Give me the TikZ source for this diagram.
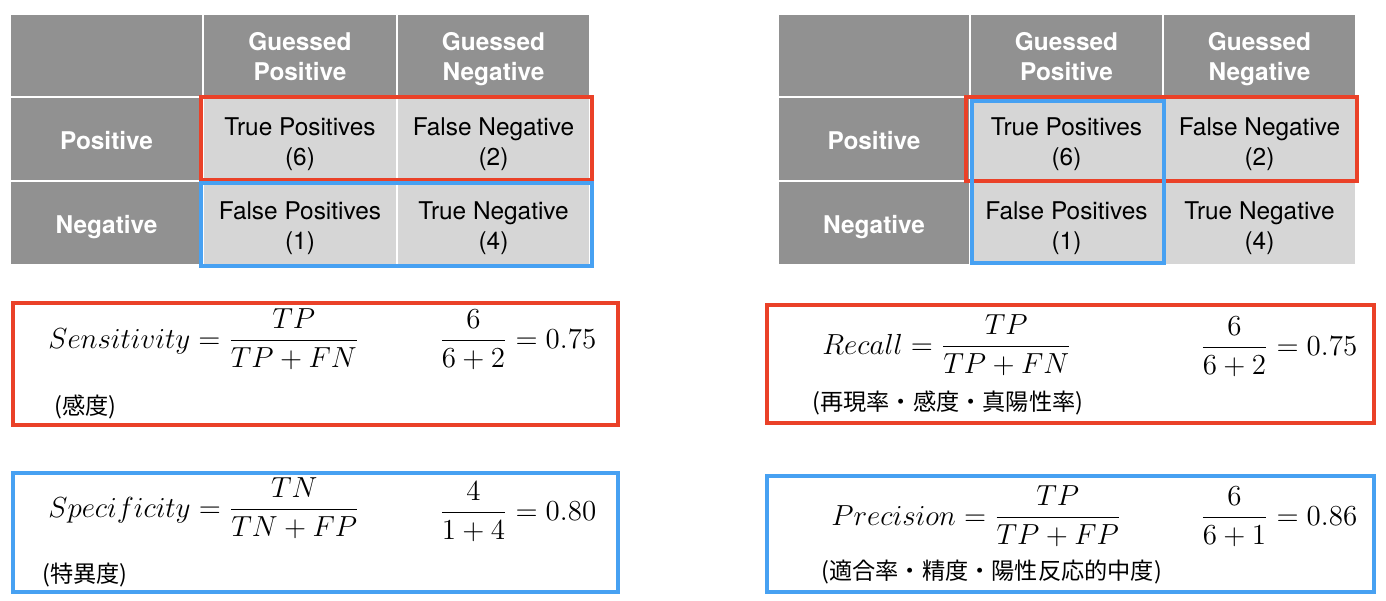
\RequirePackage{fix-cm}
\documentclass[tikz,border=0pt]{standalone}
\usepackage[no-math]{fontspec}
\setmainfont{TeX Gyre Heros}
\newfontfamily\cjk{Noto Sans CJK JP}
\definecolor{dgray}{HTML}{919191}
\definecolor{lgray}{HTML}{D6D6D6}
\definecolor{myred}{HTML}{EA4128}
\definecolor{myblue}{HTML}{47A1F2}
\tikzset{
  cell/.style={inner sep=0pt, draw=white, line width=0.6pt},
  hdr/.style={cell, fill=dgray},
  body/.style={cell, fill=lgray},
  htxt/.style={inner sep=0pt, anchor=north, align=center, text=white, font=\fontsize{12.2}{15}\selectfont\bfseries},
  btxt/.style={inner sep=0pt, anchor=north, align=center, text=black, font=\fontsize{12.2}{15}\selectfont},
  redbox/.style={draw=myred, line width=2pt},
  bluebox/.style={draw=myblue, line width=2pt},
  mth/.style={inner sep=0pt, anchor=base west, font=\fontsize{14.5}{17}\selectfont},
  jp/.style={inner sep=0pt, anchor=west, font=\cjk\fontsize{11.6}{14}\selectfont},
}
\newcommand\cellat[6]{\node[#6, minimum width={(#4-#2)*0.5pt}, minimum height={(#5-#3)*0.5pt}] (#1) at ({(#2+#4)/2},{(#3+#5)/2}) {};}
\begin{document}
\begin{tikzpicture}[x=0.5pt,y=-0.5pt]
\useasboundingbox (0,0) rectangle (1386,600);
% ---------- left table ----------
\cellat{L00}{10}{14}{203}{97}{hdr}
\cellat{L01}{203}{14}{397}{97}{hdr}
\cellat{L02}{397}{14}{590}{97}{hdr}
\cellat{L10}{10}{97}{203}{181}{hdr}
\cellat{L11}{203}{97}{397}{181}{body}
\cellat{L12}{397}{97}{590}{181}{body}
\cellat{L20}{10}{181}{203}{265}{hdr}
\cellat{L21}{203}{181}{397}{265}{body}
\cellat{L22}{397}{181}{590}{265}{body}
\node[htxt] (Lh1) at (300,32) {Guessed\\Positive};
\node[htxt] (Lh2) at (493.5,32) {Guessed\\Negative};
\node[htxt] (Lr1) at (106.5,131) {Positive};
\node[htxt] (Lr2) at (106.5,215) {Negative};
\node[btxt] (Ltp) at (300,117) {True Positives\\(6)};
\node[btxt] (Lfn) at (493.5,117) {False Negative\\(2)};
\node[btxt] (Lfp) at (300,201) {False Positives\\(1)};
\node[btxt] (Ltn) at (493.5,201) {True Negative\\(4)};
\draw[redbox] (201,97) rectangle (592,180);
\draw[bluebox] (201,183) rectangle (592,266);
% ---------- right table ----------
\cellat{R00}{778}{14}{970}{97}{hdr}
\cellat{R01}{970}{14}{1163}{97}{hdr}
\cellat{R02}{1163}{14}{1356}{97}{hdr}
\cellat{R10}{778}{97}{970}{181}{hdr}
\cellat{R11}{970}{97}{1163}{181}{body}
\cellat{R12}{1163}{97}{1356}{181}{body}
\cellat{R20}{778}{181}{970}{265}{hdr}
\cellat{R21}{970}{181}{1163}{265}{body}
\cellat{R22}{1163}{181}{1356}{265}{body}
\node[htxt] (Rh1) at (1066.5,32) {Guessed\\Positive};
\node[htxt] (Rh2) at (1259.5,32) {Guessed\\Negative};
\node[htxt] (Rr1) at (874,131) {Positive};
\node[htxt] (Rr2) at (874,215) {Negative};
\node[btxt] (Rtp) at (1066.5,117) {True Positives\\(6)};
\node[btxt] (Rfn) at (1259.5,117) {False Negative\\(2)};
\node[btxt] (Rfp) at (1066.5,201) {False Positives\\(1)};
\node[btxt] (Rtn) at (1259.5,201) {True Negative\\(4)};
\draw[redbox] (966,97) rectangle (1357,181);
\draw[bluebox] (972,101) rectangle (1164,263);
% ---------- formula boxes ----------
\draw[redbox] (13,303) rectangle (618,425);
\draw[bluebox] (13,473) rectangle (618,592);
\draw[redbox] (767,305) rectangle (1374,423);
\draw[bluebox] (767,476) rectangle (1374,592);
\node[mth] (sens) at (48,348) {$\displaystyle Sensitivity=\frac{TP}{TP+FN}$};
\node[mth] (sensv) at (439,348) {$\displaystyle \frac{6}{6+2}=0.75$};
\node[jp] (sensj) at (54,407) {(感度)};
\node[mth] (spec) at (48,517) {$\displaystyle Specificity=\frac{TN}{TN+FP}$};
\node[mth] (specv) at (439,520) {$\displaystyle \frac{4}{1+4}=0.80$};
\node[jp] (specj) at (42,575) {(特異度)};
\node[mth] (rec) at (822,354) {$\displaystyle Recall=\frac{TP}{TP+FN}$};
\node[mth] (recv) at (1200,355) {$\displaystyle \frac{6}{6+2}=0.75$};
\node[jp] (recj) at (812,403) {(再現率・感度・真陽性率)};
\node[mth] (prec) at (831,525) {$\displaystyle Precision=\frac{TP}{TP+FP}$};
\node[mth] (precv) at (1200,525) {$\displaystyle \frac{6}{6+1}=0.86$};
\node[jp] (precj) at (821,572) {(適合率・精度・陽性反応的中度)};
\end{tikzpicture}
\end{document}
